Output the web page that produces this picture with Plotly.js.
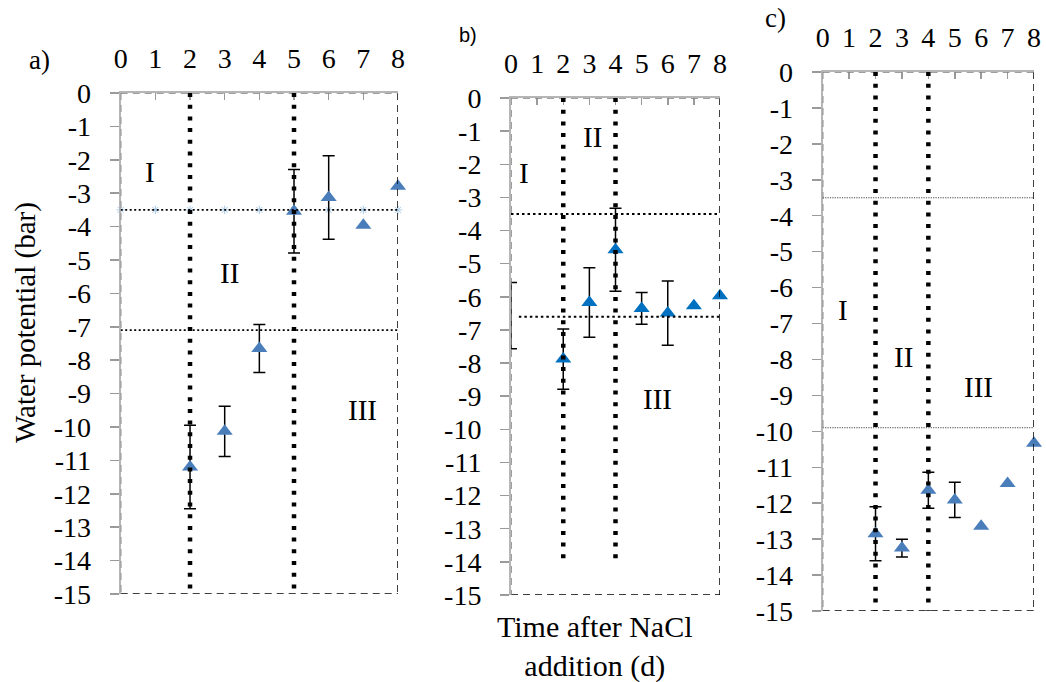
<!DOCTYPE html>
<html>
<head>
<meta charset="utf-8">
<script src="https://cdn.plot.ly/plotly-3.0.1.min.js"></script>
<style>html,body{margin:0;padding:0;background:#fff;}#chart{width:1046px;height:682px;}</style>
</head>
<body>
<div id="chart"></div>
<script>
// ---------- data ----------
const days = [0, 1, 2, 3, 4, 5, 6, 7, 8];
const yTickVals = [0, -1, -2, -3, -4, -5, -6, -7, -8, -9, -10, -11, -12, -13, -14, -15];

// panel a (null = no error bar shown)
const aDays = [2, 3, 4, 5, 6, 7, 8];
const aPotential = [-11.2, -10.13, -7.65, -3.54, -3.13, -3.96, -2.79];
const aError = [1.25, 0.75, 0.72, 1.25, 1.25, null, null];
const aThresholdMarks = [-3.5, -3.5, -3.5, -3.5, -3.5, -3.5, -3.5, -3.5, -3.5];
const aThresholds = [-3.5, -7.1];
const aPhaseBounds = [2, 5];

// panel b
const bDays = [2, 3, 4, 5, 6, 7, 8];
const bPotential = [-7.88, -6.17, -4.58, -6.35, -6.49, -6.27, -5.97];
const bError = [0.91, 1.05, 1.25, 0.48, 0.97, null, null];
const bDay0 = [0];
const bDay0Potential = [-6.57];
const bDay0Error = [1.0];
const bThresholds = [-3.5, -6.6];
const bPhaseBounds = [2, 4];

// panel c
const cDays = [2, 3, 4, 5, 6, 7, 8];
const cPotential = [-12.85, -13.25, -11.64, -11.91, -12.64, -11.45, -10.33];
const cError = [0.75, 0.25, 0.5, 0.49, null, null, null];
const cThresholds = [-3.5, -9.9];
const cPhaseBounds = [2, 4];

// ---------- figure ----------
const W = 1046, H = 682;
const px = v => v / W;
const py = v => 1 - v / H;
const serif = '"Liberation Serif", "Times New Roman", serif';
const sans = '"Liberation Sans", Arial, sans-serif';
const TICK = 28;

function xAxis(x0, x1, anchor) {
  return {
    domain: [px(x0), px(x1)], anchor: anchor, side: 'top', range: [0, 8], tickmode: 'array',
    tickvals: days, ticktext: days.map(String), ticks: 'inside', ticklen: 7,
    tickcolor: '#9a9a9a', tickwidth: 1.5, showline: true, linecolor: '#b5b5b5',
    linewidth: 2, showgrid: false, zeroline: false, ticklabelstandoff: 12,
    tickfont: {family: serif, size: TICK, color: '#000'}, fixedrange: true
  };
}
function yAxis(y0, y1, anchor) {
  return {
    domain: [py(y1), py(y0)], anchor: anchor, range: [-15, 0], tickmode: 'array',
    tickvals: yTickVals, ticktext: yTickVals.map(String), ticks: 'outside', ticklen: 9,
    tickcolor: '#9a9a9a', tickwidth: 1.5, showline: true, linecolor: '#b5b5b5',
    linewidth: 2, showgrid: false, zeroline: false, ticklabelstandoff: 13,
    tickfont: {family: serif, size: TICK, color: '#000'}, fixedrange: true
  };
}

function pointTraces(xs, ys, errs, color, xa, ya) {
  const withErr = xs.map((_, i) => i).filter(i => errs[i] !== null);
  const noErr = xs.map((_, i) => i).filter(i => errs[i] === null);
  const marker = {symbol: 'triangle-up', size: 14, color: color};
  return [
    {type: 'scatter', mode: 'markers', xaxis: xa, yaxis: ya,
     x: withErr.map(i => xs[i]), y: withErr.map(i => ys[i]), marker: marker,
     error_y: {type: 'data', array: withErr.map(i => errs[i]), visible: true,
               color: '#000', thickness: 1.5, width: 6},
     cliponaxis: false, hoverinfo: 'skip'},
    {type: 'scatter', mode: 'markers', xaxis: xa, yaxis: ya,
     x: noErr.map(i => xs[i]), y: noErr.map(i => ys[i]), marker: marker,
     cliponaxis: false, hoverinfo: 'skip'}
  ];
}

const traces = [
  {type: 'scatter', mode: 'markers', x: days, y: aThresholdMarks, xaxis: 'x', yaxis: 'y',
   marker: {symbol: 'asterisk-open', size: 7, color: '#a9cbe8', line: {color: '#a9cbe8', width: 1}},
   cliponaxis: false, hoverinfo: 'skip'},
  ...pointTraces(aDays, aPotential, aError, '#4a7ebb', 'x', 'y'),
  {type: 'scatter', mode: 'markers', x: bDay0, y: bDay0Potential, xaxis: 'x2', yaxis: 'y2',
   marker: {symbol: 'triangle-up', size: 14, color: 'rgba(0,0,0,0)'},
   error_y: {type: 'data', array: bDay0Error, visible: true, color: '#000', thickness: 1.5, width: 6},
   cliponaxis: true, hoverinfo: 'skip'},
  ...pointTraces(bDays, bPotential, bError, '#0070c0', 'x2', 'y2'),
  ...pointTraces(cDays, cPotential, cError, '#4a7ebb', 'x3', 'y3')
];

const shapes = [];
function frame(xr, yr) {
  shapes.push({type: 'line', xref: xr, yref: yr, x0: 8, x1: 8, y0: 0, y1: -15,
    line: {color: '#000', width: 1.5, dash: '7px,5px'}, layer: 'above'});
  shapes.push({type: 'line', xref: xr, yref: yr, x0: 0, x1: 8, y0: -15, y1: -15,
    line: {color: '#000', width: 1.5, dash: '7px,5px'}, layer: 'above'});
  shapes.push({type: 'line', xref: xr, yref: yr, x0: 0, x1: 8, y0: 0, y1: 0,
    line: {color: '#808080', width: 1.5, dash: '7px,5px'}, layer: 'above'});
  shapes.push({type: 'line', xref: xr, yref: yr, x0: 0, x1: 0, y0: 0, y1: -15,
    line: {color: '#808080', width: 1.5, dash: '7px,5px'}, layer: 'above'});
}
function phaseLines(xr, yr, bounds, yEnd) {
  bounds.forEach(b => shapes.push({type: 'line', xref: xr, yref: yr, x0: b, x1: b, y0: 0, y1: yEnd,
    line: {color: '#000', width: 4.5, dash: '4px,7.7px'}, layer: 'above'}));
}
function thresholdLines(xr, yr, vals, x0, x1, color, width, dash) {
  vals.forEach(v => shapes.push({type: 'line', xref: xr, yref: yr, x0: x0, x1: x1, y0: v, y1: v,
    line: {color: color, width: width, dash: dash}, layer: 'above'}));
}
frame('x', 'y'); frame('x2', 'y2'); frame('x3', 'y3');
thresholdLines('x', 'y', aThresholds, 0, 8.05, '#000', 1.6, '2px,2.5px');
thresholdLines('x2', 'y2', [bThresholds[0]], 0, 8, '#000', 2, '2.5px,3px');
thresholdLines('x2', 'y2', [bThresholds[1]], 0.3, 8, '#000', 2, '2.5px,3px');
thresholdLines('x3', 'y3', cThresholds, 0, 8, '#444', 1, '1.2px,1.2px');
phaseLines('x', 'y', aPhaseBounds, -15);
phaseLines('x2', 'y2', bPhaseBounds, -13.9);
phaseLines('x3', 'y3', cPhaseBounds, -15);

const ann = [];
function roman(xr, yr, x, y, t) {
  ann.push({xref: xr, yref: yr, x: x, y: y, text: t, showarrow: false,
    xanchor: 'center', yanchor: 'middle', font: {family: serif, size: 29, color: '#000'}});
}
roman('x', 'y', 0.84, -2.36, 'I');
roman('x', 'y', 3.15, -5.4, 'II');
roman('x', 'y', 6.99, -9.5, 'III');
roman('x2', 'y2', 0.51, -2.25, 'I');
roman('x2', 'y2', 3.11, -1.17, 'II');
roman('x2', 'y2', 5.62, -9.07, 'III');
roman('x3', 'y3', 0.78, -6.62, 'I');
roman('x3', 'y3', 3.05, -7.92, 'II');
roman('x3', 'y3', 5.89, -8.76, 'III');

function paperText(x, y, t, font, angle) {
  ann.push({xref: 'paper', yref: 'paper', x: px(x), y: py(y), text: t, showarrow: false,
    xanchor: 'center', yanchor: 'middle', font: font, textangle: angle || 0});
}
paperText(39, 60, 'a)', {family: serif, size: 27, color: '#000'});
paperText(468, 35, 'b)', {family: sans, size: 20, color: '#000'});
paperText(775, 18, 'c)', {family: serif, size: 27, color: '#000'});
paperText(25, 323, 'Water potential (bar)', {family: serif, size: 29, color: '#000'}, -90);
paperText(595, 646, 'Time after NaCl<br>addition (d)', {family: serif, size: 30, color: '#000'});

const layout = {
  width: W, height: H, margin: {l: 0, r: 0, t: 0, b: 0},
  paper_bgcolor: '#fff', plot_bgcolor: '#fff', showlegend: false,
  font: {family: serif, size: TICK, color: '#000'},
  xaxis: xAxis(120.7, 398, 'y'),
  yaxis: yAxis(93, 594, 'x'),
  xaxis2: xAxis(511, 720, 'y2'),
  yaxis2: yAxis(98, 595, 'x2'),
  xaxis3: xAxis(822.7, 1034, 'y3'),
  yaxis3: yAxis(72, 611, 'x3'),
  shapes: shapes, annotations: ann
};

Plotly.newPlot('chart', traces, layout, {staticPlot: true});
</script>
</body>
</html>
